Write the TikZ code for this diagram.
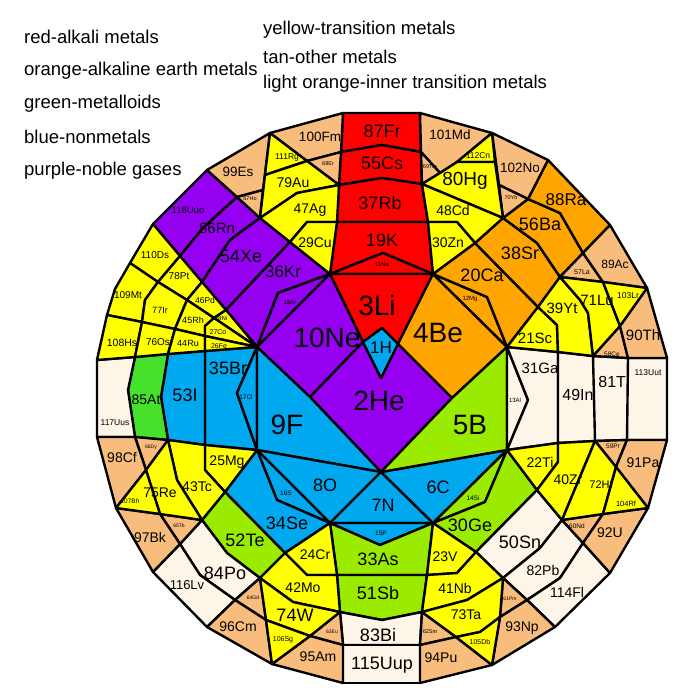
\documentclass[tikz,border=0pt]{standalone}
\usepackage{fontspec}
\setmainfont{Liberation Sans}
\definecolor{cAlk}{RGB}{255,0,0}
\definecolor{cEarth}{RGB}{255,165,0}
\definecolor{cTrans}{RGB}{255,255,0}
\definecolor{cOther}{RGB}{253,245,232}
\definecolor{cInner}{RGB}{248,189,124}
\definecolor{cMetal}{RGB}{155,235,0}
\definecolor{cAt}{RGB}{70,225,45}
\definecolor{cNon}{RGB}{0,168,240}
\definecolor{cNoble}{RGB}{150,0,240}
\tikzset{
  rg/.style={draw=black,line width=2.4pt,line join=round},
  alk/.style={rg,fill=cAlk}, earth/.style={rg,fill=cEarth},
  trans/.style={rg,fill=cTrans}, other/.style={rg,fill=cOther},
  inner/.style={rg,fill=cInner}, metal/.style={rg,fill=cMetal},
  astat/.style={rg,fill=cAt}, nonm/.style={rg,fill=cNon},
  noble/.style={rg,fill=cNoble},
  legend/.style={anchor=west,inner sep=0pt,font=\fontsize{18.5}{18.5}\selectfont}
}
\newcommand\reg[2]{\filldraw[#1] #2 -- cycle;}
\newcommand\lab[4]{\node[inner sep=0pt,font=\fontsize{#3}{#3}\selectfont] (n#4) at (#1,#2) {#4};}
\begin{document}
\begin{tikzpicture}[x=1pt,y=-1pt]
\fill[white] (0,0) rectangle (700,700);
\useasboundingbox (0,0) rectangle (700,700);
% legend
\node[legend] (l1) at (24,37) {red-alkali metals};
\node[legend] (l2) at (24,71) {orange-alkaline earth metals};
\node[legend] (l3) at (24,104) {green-metalloids};
\node[legend] (l4) at (24,137) {blue-nonmetals};
\node[legend] (l5) at (24,171) {purple-noble gases};
\node[legend] (l6) at (263,30) {yellow-transition metals};
\node[legend] (l7) at (263,57) {tan-other metals};
\node[legend] (l8) at (263,84) {light orange-inner transition metals};
% red
\reg{alk}{(343,113)--(420,113)--(421,152)--(382,145)--(341,152)}
\reg{alk}{(341,152)--(382,145)--(421,152)--(422,184)--(382,178)--(339,185)}
\reg{alk}{(339,185)--(382,178)--(422,184)--(428,222)--(337,222)}
\reg{alk}{(337,222)--(428,222)--(433,274)--(383,253)--(330,274)}
\reg{alk}{(330,274)--(383,253)--(433,274)}
\reg{alk}{(330,274)--(433,274)--(398,344)--(382,328)--(363,342)}
% orange
\reg{earth}{(433,274)--(398,344)--(452,398)--(507,347)}
\reg{earth}{(433,274)--(487,297)--(507,347)}
\reg{earth}{(433,274)--(475,243)--(538,307)--(507,347)--(487,297)}
\reg{earth}{(475,243)--(503,218)--(537,243)--(560,277)--(538,307)}
\reg{earth}{(503,218)--(528,199)--(560,213)--(583,253)--(560,277)--(537,243)}
\reg{earth}{(528,199)--(548,160)--(610,225)--(583,253)--(560,213)}
% purple
\reg{noble}{(207,170)--(237,197)--(203,228)--(180,256)--(153,224)}
\reg{noble}{(237,197)--(260,218)--(230,240)--(202,282)--(180,256)--(203,228)}
\reg{noble}{(260,218)--(290,242)--(226,310)--(202,282)--(230,240)}
\reg{noble}{(290,242)--(330,274)--(278,293)--(257,347)--(226,310)}
\reg{noble}{(330,274)--(278,293)--(257,347)}
\reg{noble}{(330,274)--(363,342)--(310,397)--(257,347)}
\reg{noble}{(363,342)--(381,378)--(398,344)--(452,398)--(381,472)--(310,397)}
% blue
\reg{nonm}{(382,328)--(398,344)--(381,378)--(363,342)}
\reg{nonm}{(205,351)--(257,347)--(237,393)--(257,450)--(205,445)}
\reg{nonm}{(257,347)--(237,393)--(257,450)}
\reg{nonm}{(168,354)--(205,351)--(205,445)--(168,440)--(161,397)}
\reg{nonm}{(257,347)--(310,397)--(381,472)--(257,450)}
\reg{nonm}{(257,450)--(381,472)--(330,523)}
\reg{nonm}{(257,450)--(330,523)--(277,500)}
\reg{nonm}{(257,450)--(277,500)--(330,523)--(285,553)--(225,492)}
\reg{nonm}{(381,472)--(433,523)--(330,523)}
\reg{nonm}{(381,472)--(507,450)--(433,523)}
\reg{nonm}{(330,523)--(433,523)--(380,545)}
% green
\reg{metal}{(452,398)--(507,347)--(507,450)--(381,472)}
\reg{metal}{(507,450)--(485,502)--(433,523)}
\reg{metal}{(507,450)--(537,490)--(476,552)--(433,523)--(485,502)}
\reg{metal}{(330,523)--(380,545)--(433,523)--(427,575)--(337,575)}
\reg{metal}{(337,575)--(427,575)--(422,612)--(382,620)--(340,612)}
\reg{metal}{(225,492)--(285,553)--(260,578)--(227,553)--(202,520)}
\reg{astat}{(135,357)--(168,354)--(161,397)--(168,440)--(135,437)--(128,390)}
% other metals
\reg{other}{(97,360)--(135,357)--(128,390)--(135,437)--(97,437)}
\reg{other}{(507,347)--(528,400)--(507,450)}
\reg{other}{(507,347)--(558,352)--(558,443)--(507,450)--(528,400)}
\reg{other}{(558,352)--(593,356)--(603,397)--(595,441)--(558,443)}
\reg{other}{(593,356)--(628,358)--(635,398)--(627,440)--(595,441)}
\reg{other}{(628,358)--(667,358)--(667,440)--(627,440)}
\reg{other}{(537,490)--(562,520)--(540,548)--(503,578)--(476,552)}
\reg{other}{(503,578)--(540,548)--(562,520)--(583,543)--(560,578)--(527,600)}
\reg{other}{(527,600)--(560,578)--(583,543)--(610,573)--(555,627)}
\reg{other}{(340,612)--(382,620)--(422,612)--(420,645)--(343,645)}
\reg{other}{(343,645)--(420,645)--(420,683)--(343,683)}
\reg{other}{(202,520)--(227,553)--(260,578)--(235,600)--(200,575)--(180,544)}
\reg{other}{(153,572)--(180,544)--(200,575)--(235,600)--(207,627)}
% inner transition
\reg{inner}{(207,170)--(270,133)--(263,190)--(237,197)}
\reg{inner}{(237,197)--(263,190)--(260,218)}
\reg{inner}{(270,133)--(343,113)--(341,152)--(307,161)}
\reg{inner}{(307,161)--(341,152)--(339,185)}
\reg{inner}{(420,113)--(492,133)--(457,162)--(440,173)--(421,152)}
\reg{inner}{(421,152)--(440,173)--(422,184)}
\reg{inner}{(492,133)--(548,160)--(528,199)--(499,185)}
\reg{inner}{(503,218)--(499,185)--(528,199)}
\reg{inner}{(560,277)--(583,253)--(603,282)}
\reg{inner}{(583,253)--(610,225)--(647,288)--(603,282)}
\reg{inner}{(593,356)--(620,326)--(628,358)}
\reg{inner}{(647,288)--(667,358)--(628,358)--(620,326)}
\reg{inner}{(595,441)--(627,440)--(616,467)}
\reg{inner}{(627,440)--(667,440)--(648,508)--(616,467)}
\reg{inner}{(562,520)--(603,514)--(583,543)}
\reg{inner}{(603,514)--(648,508)--(610,573)--(583,543)}
\reg{inner}{(503,578)--(527,600)--(500,617)}
\reg{inner}{(500,617)--(527,600)--(555,627)--(492,665)}
\reg{inner}{(422,612)--(456,637)--(420,645)}
\reg{inner}{(420,645)--(456,637)--(492,665)--(420,683)}
\reg{inner}{(340,612)--(343,645)--(310,636)}
\reg{inner}{(310,636)--(343,645)--(343,683)--(272,664)}
\reg{inner}{(235,600)--(260,578)--(266,620)}
\reg{inner}{(207,627)--(235,600)--(266,620)--(272,664)}
\reg{inner}{(160,514)--(202,520)--(180,544)}
\reg{inner}{(116,508)--(160,514)--(180,544)--(153,572)}
\reg{inner}{(135,437)--(168,440)--(146,470)}
\reg{inner}{(97,437)--(135,437)--(146,470)--(116,508)}
% transition
\reg{trans}{(270,133)--(307,161)--(265,175)}
\reg{trans}{(265,175)--(307,161)--(339,185)--(297,193)--(260,218)}
\reg{trans}{(260,218)--(297,193)--(339,185)--(337,222)--(307,222)--(290,242)}
\reg{trans}{(290,242)--(307,222)--(337,222)--(330,274)}
\reg{trans}{(492,133)--(495,162)--(457,162)}
\reg{trans}{(422,184)--(440,173)--(457,162)--(495,162)--(503,218)}
\reg{trans}{(422,184)--(503,218)--(475,243)--(457,222)--(428,222)}
\reg{trans}{(433,274)--(428,222)--(457,222)--(475,243)}
\reg{trans}{(507,347)--(538,307)--(557,325)--(558,352)}
\reg{trans}{(538,307)--(560,277)--(580,300)--(588,313)--(593,356)--(558,352)--(557,325)}
\reg{trans}{(560,277)--(603,282)--(620,326)--(593,356)--(588,313)--(580,300)}
\reg{trans}{(603,282)--(647,288)--(620,326)}
\reg{trans}{(507,450)--(558,443)--(558,462)--(537,490)}
\reg{trans}{(558,443)--(595,441)--(562,520)--(537,490)--(558,462)}
\reg{trans}{(595,441)--(616,467)--(603,514)--(562,520)}
\reg{trans}{(616,467)--(648,508)--(603,514)}
\reg{trans}{(433,523)--(476,552)--(457,573)--(427,575)}
\reg{trans}{(427,575)--(457,573)--(476,552)--(503,578)--(467,600)--(422,612)}
\reg{trans}{(422,612)--(467,600)--(503,578)--(500,617)--(480,632)--(456,637)}
\reg{trans}{(456,637)--(480,632)--(500,617)--(492,665)}
\reg{trans}{(330,523)--(337,575)--(307,575)--(285,553)}
\reg{trans}{(285,553)--(307,575)--(337,575)--(340,612)--(293,602)--(260,578)}
\reg{trans}{(260,578)--(293,602)--(340,612)--(310,636)--(266,620)}
\reg{trans}{(266,620)--(310,636)--(272,664)}
\reg{trans}{(205,445)--(257,450)--(225,492)--(205,470)}
\reg{trans}{(168,440)--(205,445)--(205,470)--(225,492)--(202,520)--(177,480)}
\reg{trans}{(146,470)--(168,440)--(177,480)--(202,520)--(160,514)}
\reg{trans}{(116,508)--(146,470)--(160,514)}
\reg{trans}{(153,224)--(180,256)--(158,282)--(130,263)}
\reg{trans}{(130,263)--(158,282)--(145,300)--(142,322)--(107,315)--(115,289)}
\reg{trans}{(107,315)--(142,322)--(135,357)--(97,360)}
\reg{trans}{(180,256)--(202,282)--(187,300)--(158,282)}
\reg{trans}{(158,282)--(187,300)--(175,329)--(142,322)--(145,300)}
\reg{trans}{(142,322)--(175,329)--(168,354)--(135,357)}
\reg{trans}{(202,282)--(226,310)--(214,318)--(187,300)}
\reg{trans}{(187,300)--(214,318)--(205,326)--(205,336)--(175,329)}
\reg{trans}{(175,329)--(205,336)--(205,351)--(168,354)}
\reg{trans}{(226,310)--(257,347)--(214,318)}
\reg{trans}{(214,318)--(257,347)--(205,336)--(205,326)}
\reg{trans}{(205,336)--(257,347)--(205,351)}
% labels
\lab{382}{131}{18}{87Fr}
\lab{382}{163}{18}{55Cs}
\lab{380}{203}{18}{37Rb}
\lab{382}{240}{18}{19K}
\lab{382}{264}{6}{11Na}
\lab{377}{305}{28}{3Li}
\lab{320}{137}{13.5}{100Fm}
\lab{450}{135}{13.5}{101Md}
\lab{238}{172}{13.5}{99Es}
\lab{287}{157}{8.5}{111Rg}
\lab{328}{164}{5.5}{68Er}
\lab{250}{199}{5.5}{67Ho}
\lab{430}{167}{5.5}{69Tm}
\lab{478}{156}{8.5}{112Cn}
\lab{520}{168}{13.5}{102No}
\lab{511}{198}{5.5}{70Yb}
\lab{465}{181}{19}{80Hg}
\lab{293}{183}{14}{79Au}
\lab{310}{210}{14}{47Ag}
\lab{315}{243}{14}{29Cu}
\lab{453}{210}{14}{48Cd}
\lab{448}{243}{14}{30Zn}
\lab{188}{210}{9.5}{118Uuo}
\lab{217}{228}{15}{86Rn}
\lab{241}{256}{18}{54Xe}
\lab{283}{272}{17}{36Kr}
\lab{290}{302}{6}{18Ar}
\lab{327}{338}{28}{10Ne}
\lab{381}{348}{17}{1H}
\lab{379}{401}{28}{2He}
\lab{438}{333}{28}{4Be}
\lab{287}{425}{28}{9F}
\lab{470}{425}{28}{5B}
\lab{482}{275}{18}{20Ca}
\lab{520}{253}{18}{38Sr}
\lab{540}{224}{18}{56Ba}
\lab{566}{200}{17}{88Ra}
\lab{470}{299}{6}{12Mg}
\lab{615}{264}{12}{89Ac}
\lab{582}{272}{7}{57La}
\lab{562}{308}{15}{39Yt}
\lab{597}{300}{15}{71Lu}
\lab{628}{296}{8.5}{103Lr}
\lab{643}{335}{15}{90Th}
\lab{612}{354}{6.5}{58Ce}
\lab{535}{338}{15}{21Sc}
\lab{540}{368}{15}{31Ga}
\lab{515}{400}{6}{13Al}
\lab{578}{395}{16}{49In}
\lab{614}{382}{16}{81Tl}
\lab{648}{373}{8.5}{113Uut}
\lab{540}{462}{14}{22Ti}
\lab{568}{480}{14}{40Zr}
\lab{601}{485}{11}{72Hf}
\lab{613}{446}{6.5}{59Pr}
\lab{643}{463}{14}{91Pa}
\lab{626}{504}{7.5}{104Rf}
\lab{577}{526}{6.5}{60Nd}
\lab{610}{533}{14}{92U}
\lab{520}{542}{18}{50Sn}
\lab{543}{570}{14}{82Pb}
\lab{567}{592}{14}{114Fl}
\lab{510}{599}{5}{61Pm}
\lab{522}{628}{14}{93Np}
\lab{441}{658}{14}{94Pu}
\lab{480}{642}{7}{105Db}
\lab{430}{632}{5.5}{62Sm}
\lab{466}{615}{14}{73Ta}
\lab{455}{588}{14}{41Nb}
\lab{445}{557}{14}{23V}
\lab{470}{525}{18}{30Ge}
\lab{473}{498}{6.5}{14Si}
\lab{438}{487}{18}{6C}
\lab{383}{505}{18}{7N}
\lab{325}{485}{18}{8O}
\lab{381}{533}{6.5}{15P}
\lab{286}{493}{6.5}{16S}
\lab{246}{397}{6.5}{17Cl}
\lab{378}{559}{18}{33As}
\lab{378}{593}{18}{51Sb}
\lab{378}{635}{18}{83Bi}
\lab{382}{665}{18}{115Uup}
\lab{315}{555}{14}{24Cr}
\lab{303}{588}{14}{42Mo}
\lab{295}{615}{18}{74W}
\lab{332}{632}{5}{63Eu}
\lab{283}{640}{7}{106Sg}
\lab{318}{657}{14}{95Am}
\lab{238}{627}{14}{96Cm}
\lab{253}{598}{5}{64Gd}
\lab{225}{573}{18}{84Po}
\lab{187}{585}{13}{116Lv}
\lab{150}{537}{14}{97Bk}
\lab{179}{526}{5}{65Tb}
\lab{245}{540}{18}{52Te}
\lab{287}{523}{18}{34Se}
\lab{122}{457}{14}{98Cf}
\lab{151}{447}{5}{66Dy}
\lab{130}{501}{6.5}{107Bh}
\lab{160}{493}{14}{75Re}
\lab{197}{487}{14}{43Tc}
\lab{227}{462}{14}{25Mg}
\lab{146}{400}{14}{85At}
\lab{185}{395}{18}{53I}
\lab{228}{368}{18}{35Br}
\lab{115}{423}{8.5}{117Uus}
\lab{122}{343}{10.5}{108Hs}
\lab{158}{342}{10}{76Os}
\lab{188}{343}{9}{44Ru}
\lab{219}{346}{7}{26Fe}
\lab{218}{332}{7}{27Co}
\lab{221}{318}{6}{28Ni}
\lab{193}{320}{9}{45Rh}
\lab{160}{310}{9}{77Ir}
\lab{128}{295}{10}{109Mt}
\lab{205}{300}{8.5}{46Pd}
\lab{179}{276}{10}{78Pt}
\lab{155}{255}{10}{110Ds}
\end{tikzpicture}
\end{document}
